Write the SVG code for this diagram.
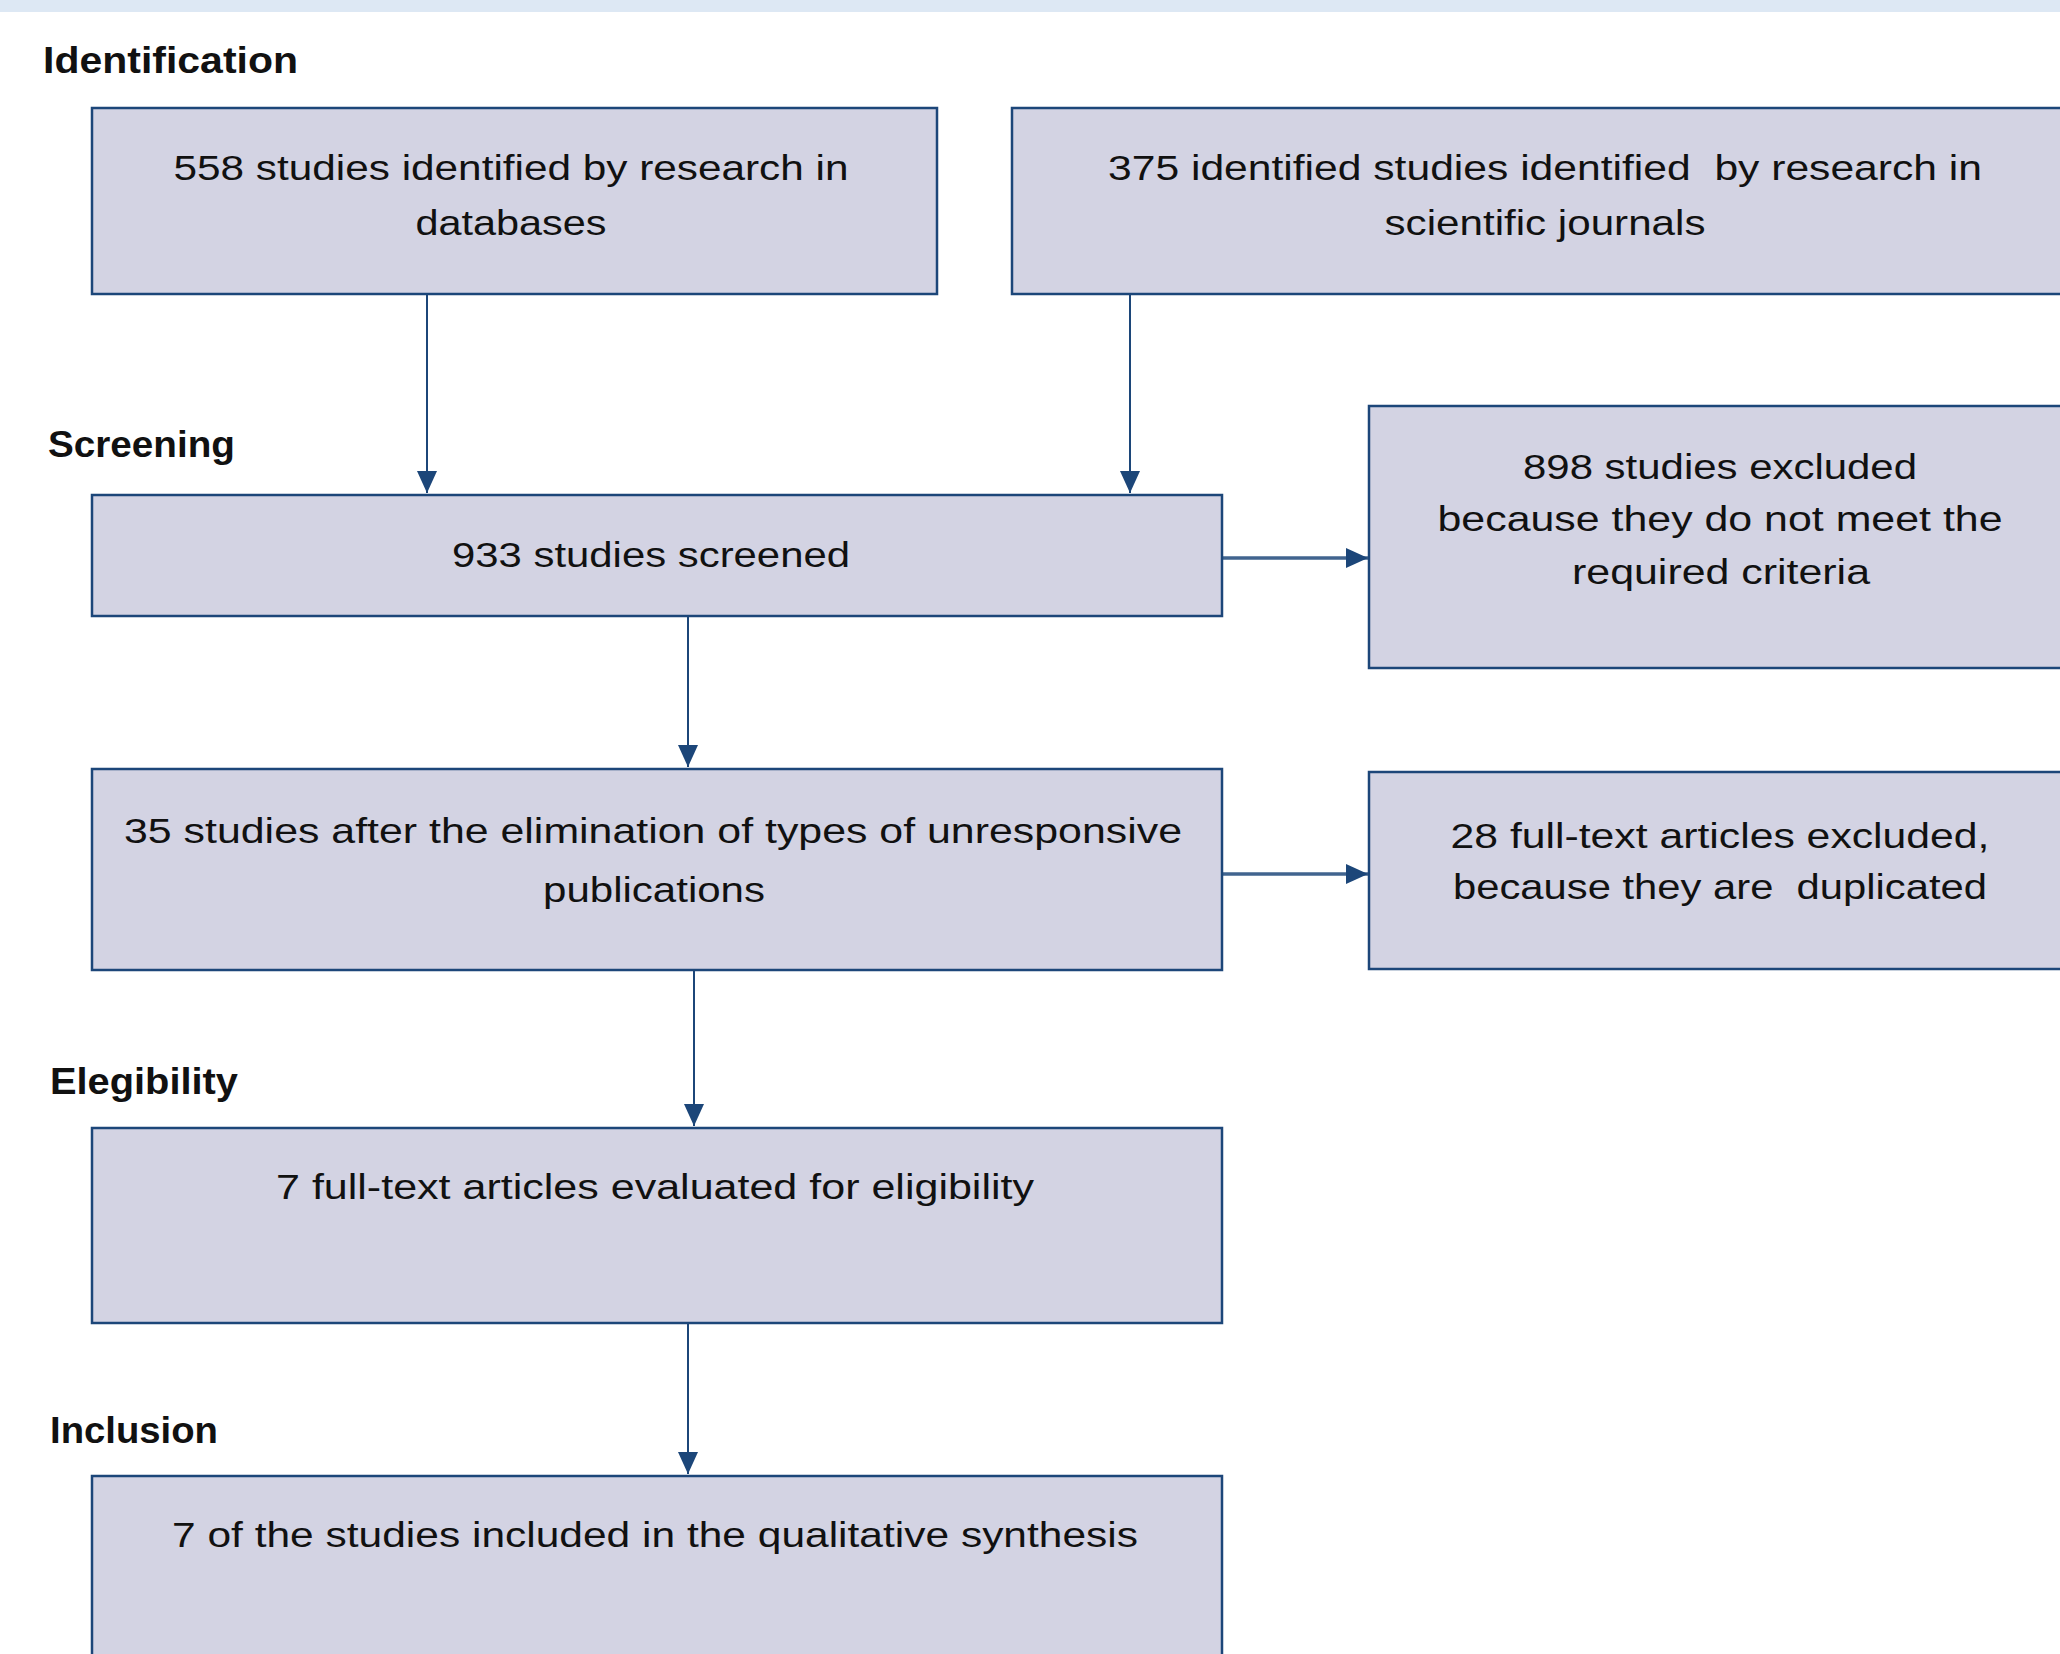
<svg xmlns="http://www.w3.org/2000/svg" width="2060" height="1654" viewBox="0 0 2060 1654">
<style>
.box{fill:#d3d3e3;stroke:#1c4679;stroke-width:2.5}
.t{font-family:"Liberation Sans",Arial,sans-serif;font-size:35px;fill:#111;text-anchor:middle}
.lbl{font-family:"Liberation Sans",Arial,sans-serif;font-size:37px;font-weight:bold;fill:#111}
.v{stroke:#1c4679;stroke-width:2;fill:none}
.h{stroke:#41648f;stroke-width:3.5;fill:none}
</style>
<defs>
<marker id="ah" markerUnits="userSpaceOnUse" markerWidth="22" markerHeight="22" refX="22" refY="10" orient="auto">
<path d="M0,0 L22,10 L0,20 Z" fill="#1c4679"/>
</marker>
</defs>
<rect x="0" y="0" width="2060" height="12" fill="#dde8f4"/>
<g id="labels">
<text class="lbl" x="43" y="73" textLength="255" lengthAdjust="spacingAndGlyphs">Identification</text>
<text class="lbl" x="48" y="457" textLength="187" lengthAdjust="spacingAndGlyphs">Screening</text>
<text class="lbl" x="50" y="1094" textLength="188" lengthAdjust="spacingAndGlyphs">Elegibility</text>
<text class="lbl" x="50" y="1443" textLength="168" lengthAdjust="spacingAndGlyphs">Inclusion</text>
</g>
<g id="connectors">
<line class="v" x1="427" y1="294" x2="427" y2="493" marker-end="url(#ah)"/>
<line class="v" x1="1130" y1="294" x2="1130" y2="493" marker-end="url(#ah)"/>
<line class="v" x1="688" y1="616" x2="688" y2="767" marker-end="url(#ah)"/>
<line class="v" x1="694" y1="970" x2="694" y2="1126" marker-end="url(#ah)"/>
<line class="v" x1="688" y1="1323" x2="688" y2="1474" marker-end="url(#ah)"/>
<line class="h" x1="1222" y1="558" x2="1368" y2="558" marker-end="url(#ah)"/>
<line class="h" x1="1222" y1="874" x2="1368" y2="874" marker-end="url(#ah)"/>
</g>
<g id="n558">
<rect class="box" x="92" y="108" width="845" height="186"/>
<text class="t" x="511" y="180" textLength="675" lengthAdjust="spacingAndGlyphs">558 studies identified by research in</text>
<text class="t" x="511" y="235" textLength="191" lengthAdjust="spacingAndGlyphs">databases</text>
</g>
<g id="n375">
<rect class="box" x="1012" y="108" width="1060" height="186"/>
<text class="t" x="1545" y="180" textLength="874" lengthAdjust="spacingAndGlyphs" xml:space="preserve">375 identified studies identified  by research in</text>
<text class="t" x="1545" y="235" textLength="321" lengthAdjust="spacingAndGlyphs">scientific journals</text>
</g>
<g id="n933">
<rect class="box" x="92" y="495" width="1130" height="121"/>
<text class="t" x="651" y="567" textLength="398" lengthAdjust="spacingAndGlyphs">933 studies screened</text>
</g>
<g id="n898">
<rect class="box" x="1369" y="406" width="700" height="262"/>
<text class="t" x="1720" y="479" textLength="394" lengthAdjust="spacingAndGlyphs">898 studies excluded</text>
<text class="t" x="1720" y="531" textLength="565" lengthAdjust="spacingAndGlyphs">because they do not meet the</text>
<text class="t" x="1721" y="584" textLength="298" lengthAdjust="spacingAndGlyphs">required criteria</text>
</g>
<g id="n35">
<rect class="box" x="92" y="769" width="1130" height="201"/>
<text class="t" x="653" y="843" textLength="1058" lengthAdjust="spacingAndGlyphs">35 studies after the elimination of types of unresponsive</text>
<text class="t" x="654" y="902" textLength="222" lengthAdjust="spacingAndGlyphs">publications</text>
</g>
<g id="n28">
<rect class="box" x="1369" y="772" width="700" height="197"/>
<text class="t" x="1720" y="848" textLength="539" lengthAdjust="spacingAndGlyphs">28 full-text articles excluded,</text>
<text class="t" x="1720" y="899" textLength="534" lengthAdjust="spacingAndGlyphs" xml:space="preserve">because they are  duplicated</text>
</g>
<g id="n7e">
<rect class="box" x="92" y="1128" width="1130" height="195"/>
<text class="t" x="655" y="1199" textLength="758" lengthAdjust="spacingAndGlyphs">7 full-text articles evaluated for eligibility</text>
</g>
<g id="n7i">
<rect class="box" x="92" y="1476" width="1130" height="200"/>
<text class="t" x="655" y="1547" textLength="966" lengthAdjust="spacingAndGlyphs">7 of the studies included in the qualitative synthesis</text>
</g>
</svg>
